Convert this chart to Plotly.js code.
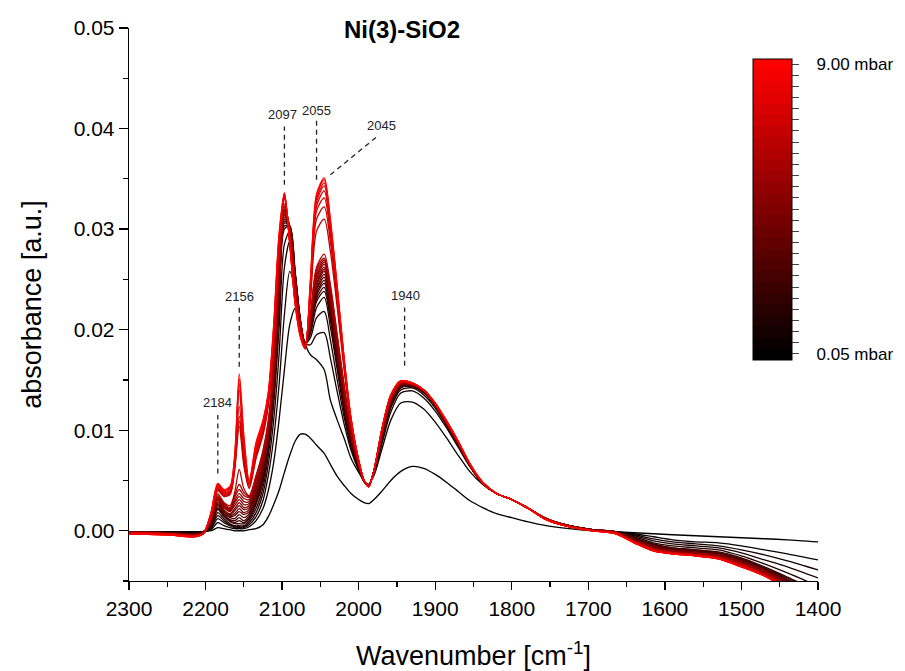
<!DOCTYPE html>
<html><head><meta charset="utf-8">
<script src="https://cdn.plot.ly/plotly-3.0.1.min.js"></script>
<style>html,body{margin:0;padding:0;background:#fff}</style>
</head><body><div id="chart" style="width:905px;height:671px"></div>
<script>
const wavenumbers = [2300,2250,2215,2203,2193,2184,2176,2168,2162,2156,
2150,2143,2134,2125,2118,2111,2104,2097,2090,2083,
2076,2070,2063,2055,2045,2037,2028,2019,2010,2000,
1993,1987,1980,1970,1958,1945,1930,1915,1900,1885,
1870,1855,1838,1820,1800,1780,1755,1725,1695,1665,
1640,1615,1590,1560,1530,1500,1470,1440,1400];

const c00 = [-0.0001,-0.0001,-0.0001,-0.0001,0.0000,0.0003,0.0002,0.0001,0.0000,0.0000,
0.0000,0.0001,0.0002,0.0006,0.0014,0.0026,0.0040,0.0058,0.0075,0.0089,
0.0096,0.0096,0.0092,0.0085,0.0077,0.0066,0.0054,0.0045,0.0037,0.0031,
0.0028,0.0027,0.0031,0.0039,0.0050,0.0059,0.0064,0.0062,0.0056,0.0048,
0.0039,0.0030,0.0023,0.0017,0.0013,0.0009,0.0005,0.0002,0.0000,-0.0001,
-0.0002,-0.0003,-0.0004,-0.0005,-0.0006,-0.0007,-0.0008,-0.0009,-0.0011];
const c01 = [-0.0001,-0.0001,-0.0001,-0.0001,0.0001,0.0008,0.0005,0.0003,0.0002,0.0002,
0.0002,0.0004,0.0010,0.0022,0.0040,0.0068,0.0110,0.0160,0.0205,0.0221,
0.0205,0.0186,0.0175,0.0170,0.0160,0.0130,0.0110,0.0092,0.0072,0.0058,
0.0050,0.0046,0.0055,0.0080,0.0110,0.0127,0.0128,0.0121,0.0108,0.0092,
0.0075,0.0059,0.0046,0.0037,0.0031,0.0023,0.0012,0.0005,0.0001,-0.0001,
-0.0003,-0.0006,-0.0009,-0.0011,-0.0012,-0.0015,-0.0019,-0.0023,-0.0029];
const c02 = [-0.0001,-0.0001,-0.0002,-0.0001,0.0002,0.0012,0.0008,0.0005,0.0003,0.0003,
0.0003,0.0006,0.0014,0.0030,0.0055,0.0092,0.0145,0.0215,0.0258,0.0240,
0.0205,0.0186,0.0185,0.0195,0.0197,0.0172,0.0138,0.0106,0.0080,0.0060,
0.0049,0.0046,0.0057,0.0085,0.0118,0.0137,0.0139,0.0132,0.0119,0.0102,
0.0083,0.0064,0.0047,0.0037,0.0031,0.0023,0.0012,0.0005,0.0001,-0.0001,
-0.0004,-0.0008,-0.0011,-0.0013,-0.0015,-0.0019,-0.0024,-0.0030,-0.0039];
const c03 = [-0.0001,-0.0001,-0.0002,-0.0001,0.0003,0.0015,0.0010,0.0006,0.0004,0.0004,
0.0004,0.0008,0.0018,0.0037,0.0066,0.0110,0.0175,0.0262,0.0288,0.0250,
0.0207,0.0186,0.0192,0.0212,0.0218,0.0190,0.0150,0.0113,0.0083,0.0061,
0.0049,0.0045,0.0058,0.0088,0.0122,0.0140,0.0142,0.0135,0.0122,0.0104,
0.0085,0.0065,0.0047,0.0037,0.0031,0.0023,0.0012,0.0005,0.0001,-0.0001,
-0.0005,-0.0010,-0.0013,-0.0015,-0.0017,-0.0022,-0.0029,-0.0036,-0.0047];
const c04 = [-0.0001,-0.0002,-0.0002,-0.0001,0.0004,0.0018,0.0012,0.0007,0.0005,0.0005,
0.0005,0.0010,0.0022,0.0043,0.0075,0.0125,0.0200,0.0285,0.0298,0.0255,
0.0208,0.0186,0.0196,0.0222,0.0232,0.0203,0.0160,0.0118,0.0086,0.0062,
0.0049,0.0045,0.0059,0.0090,0.0124,0.0142,0.0143,0.0137,0.0124,0.0105,
0.0086,0.0065,0.0047,0.0037,0.0031,0.0023,0.0012,0.0005,0.0001,-0.0001,
-0.0006,-0.0012,-0.0015,-0.0017,-0.0019,-0.0025,-0.0033,-0.0042,-0.0055];
const c05 = [-0.0001,-0.0002,-0.0003,-0.0001,0.0006,0.0021,0.0014,0.0009,0.0007,0.0007,
0.0007,0.0012,0.0026,0.0048,0.0082,0.0135,0.0218,0.0300,0.0303,0.0258,
0.0209,0.0186,0.0199,0.0228,0.0238,0.0210,0.0165,0.0121,0.0087,0.0063,
0.0049,0.0045,0.0059,0.0091,0.0125,0.0143,0.0144,0.0138,0.0125,0.0106,
0.0086,0.0065,0.0047,0.0037,0.0031,0.0023,0.0012,0.0005,0.0001,-0.0001,
-0.0007,-0.0013,-0.0017,-0.0019,-0.0021,-0.0027,-0.0036,-0.0046,-0.0060];
const c06 = [-0.0001,-0.0002,-0.0003,-0.0001,0.0006,0.0022,0.0015,0.0010,0.0008,0.0010,
0.0008,0.0013,0.0028,0.0050,0.0084,0.0138,0.0222,0.0303,0.0303,0.0257,
0.0209,0.0186,0.0200,0.0231,0.0242,0.0213,0.0167,0.0123,0.0088,0.0063,
0.0049,0.0045,0.0059,0.0091,0.0126,0.0143,0.0144,0.0138,0.0125,0.0106,
0.0086,0.0065,0.0047,0.0037,0.0031,0.0023,0.0012,0.0005,0.0001,-0.0001,
-0.0007,-0.0014,-0.0017,-0.0019,-0.0022,-0.0028,-0.0037,-0.0047,-0.0061];
const c07 = [-0.0001,-0.0002,-0.0003,-0.0001,0.0007,0.0023,0.0016,0.0011,0.0010,0.0013,
0.0010,0.0015,0.0030,0.0053,0.0086,0.0141,0.0225,0.0306,0.0303,0.0256,
0.0208,0.0186,0.0201,0.0234,0.0246,0.0216,0.0170,0.0125,0.0089,0.0064,
0.0049,0.0045,0.0059,0.0092,0.0127,0.0144,0.0144,0.0138,0.0125,0.0106,
0.0086,0.0065,0.0047,0.0037,0.0031,0.0023,0.0012,0.0005,0.0001,-0.0001,
-0.0008,-0.0014,-0.0018,-0.0020,-0.0022,-0.0029,-0.0038,-0.0048,-0.0062];
const c08 = [-0.0001,-0.0002,-0.0003,-0.0002,0.0007,0.0025,0.0017,0.0013,0.0012,0.0016,
0.0013,0.0017,0.0033,0.0055,0.0089,0.0144,0.0229,0.0308,0.0303,0.0255,
0.0208,0.0186,0.0202,0.0236,0.0249,0.0219,0.0172,0.0127,0.0090,0.0064,
0.0049,0.0045,0.0059,0.0092,0.0127,0.0144,0.0144,0.0138,0.0125,0.0106,
0.0086,0.0065,0.0047,0.0037,0.0031,0.0023,0.0012,0.0005,0.0001,-0.0001,
-0.0008,-0.0015,-0.0018,-0.0020,-0.0023,-0.0029,-0.0038,-0.0049,-0.0063];
const c09 = [-0.0001,-0.0002,-0.0004,-0.0002,0.0008,0.0026,0.0018,0.0014,0.0015,0.0019,
0.0016,0.0019,0.0035,0.0058,0.0091,0.0146,0.0232,0.0310,0.0302,0.0254,
0.0208,0.0186,0.0204,0.0239,0.0252,0.0221,0.0174,0.0128,0.0091,0.0064,
0.0049,0.0045,0.0059,0.0093,0.0128,0.0145,0.0145,0.0139,0.0125,0.0106,
0.0087,0.0065,0.0047,0.0037,0.0031,0.0023,0.0012,0.0005,0.0001,-0.0001,
-0.0008,-0.0015,-0.0019,-0.0021,-0.0023,-0.0030,-0.0039,-0.0050,-0.0064];
const c10 = [-0.0001,-0.0002,-0.0004,-0.0002,0.0008,0.0027,0.0019,0.0015,0.0017,0.0022,
0.0018,0.0021,0.0037,0.0060,0.0093,0.0149,0.0236,0.0312,0.0302,0.0253,
0.0207,0.0186,0.0205,0.0241,0.0255,0.0224,0.0177,0.0130,0.0092,0.0065,
0.0049,0.0045,0.0059,0.0093,0.0128,0.0145,0.0145,0.0139,0.0125,0.0106,
0.0087,0.0065,0.0047,0.0037,0.0031,0.0023,0.0012,0.0005,0.0001,-0.0001,
-0.0009,-0.0015,-0.0019,-0.0021,-0.0024,-0.0030,-0.0039,-0.0050,-0.0065];
const c11 = [-0.0001,-0.0002,-0.0004,-0.0002,0.0009,0.0028,0.0020,0.0016,0.0020,0.0025,
0.0021,0.0023,0.0040,0.0063,0.0095,0.0151,0.0240,0.0314,0.0302,0.0252,
0.0207,0.0186,0.0206,0.0244,0.0258,0.0227,0.0179,0.0132,0.0093,0.0065,
0.0049,0.0045,0.0059,0.0093,0.0129,0.0145,0.0145,0.0139,0.0125,0.0106,
0.0087,0.0065,0.0047,0.0037,0.0031,0.0023,0.0012,0.0005,0.0001,-0.0001,
-0.0009,-0.0016,-0.0019,-0.0022,-0.0024,-0.0030,-0.0040,-0.0051,-0.0066];
const c12 = [-0.0002,-0.0003,-0.0004,-0.0002,0.0009,0.0030,0.0021,0.0017,0.0022,0.0028,
0.0023,0.0025,0.0042,0.0065,0.0097,0.0154,0.0243,0.0316,0.0301,0.0251,
0.0207,0.0186,0.0207,0.0246,0.0260,0.0229,0.0181,0.0134,0.0094,0.0065,
0.0049,0.0045,0.0059,0.0094,0.0129,0.0145,0.0145,0.0139,0.0125,0.0106,
0.0087,0.0065,0.0047,0.0037,0.0031,0.0023,0.0012,0.0005,0.0001,-0.0001,
-0.0009,-0.0016,-0.0020,-0.0022,-0.0024,-0.0031,-0.0040,-0.0051,-0.0066];
const c13 = [-0.0002,-0.0003,-0.0004,-0.0002,0.0010,0.0031,0.0023,0.0019,0.0025,0.0031,
0.0026,0.0027,0.0045,0.0068,0.0099,0.0157,0.0247,0.0318,0.0301,0.0250,
0.0206,0.0185,0.0209,0.0249,0.0262,0.0232,0.0184,0.0136,0.0096,0.0066,
0.0050,0.0045,0.0060,0.0094,0.0130,0.0146,0.0145,0.0139,0.0126,0.0107,
0.0087,0.0066,0.0048,0.0037,0.0031,0.0023,0.0012,0.0005,0.0001,-0.0001,
-0.0010,-0.0017,-0.0020,-0.0022,-0.0025,-0.0032,-0.0041,-0.0052,-0.0068];
const c14 = [-0.0002,-0.0003,-0.0004,-0.0002,0.0010,0.0032,0.0024,0.0020,0.0028,0.0034,
0.0029,0.0029,0.0047,0.0070,0.0101,0.0159,0.0251,0.0319,0.0301,0.0249,
0.0206,0.0185,0.0210,0.0251,0.0265,0.0235,0.0186,0.0138,0.0097,0.0066,
0.0050,0.0044,0.0060,0.0095,0.0130,0.0146,0.0146,0.0140,0.0126,0.0107,
0.0088,0.0066,0.0048,0.0037,0.0031,0.0023,0.0012,0.0004,0.0000,-0.0002,
-0.0010,-0.0017,-0.0021,-0.0023,-0.0025,-0.0032,-0.0041,-0.0053,-0.0069];
const c15 = [-0.0002,-0.0003,-0.0005,-0.0003,0.0011,0.0033,0.0025,0.0021,0.0030,0.0037,
0.0032,0.0031,0.0050,0.0073,0.0103,0.0162,0.0254,0.0320,0.0301,0.0248,
0.0206,0.0185,0.0211,0.0254,0.0267,0.0238,0.0189,0.0140,0.0098,0.0066,
0.0050,0.0044,0.0060,0.0095,0.0131,0.0146,0.0146,0.0140,0.0126,0.0107,
0.0088,0.0066,0.0048,0.0037,0.0031,0.0023,0.0012,0.0004,0.0000,-0.0002,
-0.0010,-0.0018,-0.0021,-0.0023,-0.0026,-0.0033,-0.0042,-0.0053,-0.0070];
const c16 = [-0.0002,-0.0003,-0.0005,-0.0003,0.0011,0.0034,0.0026,0.0022,0.0033,0.0041,
0.0035,0.0033,0.0052,0.0075,0.0106,0.0165,0.0258,0.0322,0.0300,0.0247,
0.0205,0.0185,0.0212,0.0257,0.0269,0.0240,0.0191,0.0142,0.0099,0.0067,
0.0050,0.0044,0.0060,0.0096,0.0131,0.0147,0.0146,0.0140,0.0126,0.0107,
0.0088,0.0066,0.0048,0.0037,0.0031,0.0023,0.0012,0.0004,0.0000,-0.0002,
-0.0011,-0.0018,-0.0022,-0.0024,-0.0026,-0.0033,-0.0042,-0.0054,-0.0071];
const c17 = [-0.0002,-0.0003,-0.0005,-0.0003,0.0012,0.0035,0.0027,0.0023,0.0035,0.0046,
0.0038,0.0034,0.0054,0.0078,0.0108,0.0168,0.0262,0.0323,0.0300,0.0246,
0.0205,0.0185,0.0214,0.0260,0.0271,0.0243,0.0193,0.0144,0.0100,0.0067,
0.0050,0.0044,0.0060,0.0096,0.0132,0.0147,0.0146,0.0140,0.0126,0.0107,
0.0088,0.0066,0.0048,0.0037,0.0031,0.0023,0.0012,0.0004,0.0000,-0.0002,
-0.0011,-0.0019,-0.0022,-0.0024,-0.0027,-0.0034,-0.0043,-0.0055,-0.0072];
const c18 = [-0.0002,-0.0003,-0.0005,-0.0003,0.0012,0.0037,0.0028,0.0025,0.0038,0.0061,
0.0042,0.0035,0.0055,0.0080,0.0110,0.0170,0.0265,0.0325,0.0300,0.0245,
0.0205,0.0185,0.0215,0.0262,0.0275,0.0245,0.0195,0.0145,0.0100,0.0067,
0.0050,0.0044,0.0060,0.0096,0.0132,0.0147,0.0146,0.0140,0.0126,0.0107,
0.0088,0.0066,0.0048,0.0037,0.0031,0.0023,0.0012,0.0004,0.0000,-0.0002,
-0.0011,-0.0019,-0.0022,-0.0024,-0.0027,-0.0034,-0.0043,-0.0055,-0.0072];
const c19 = [-0.0002,-0.0003,-0.0005,-0.0003,0.0014,0.0040,0.0034,0.0036,0.0060,0.0104,
0.0065,0.0042,0.0072,0.0095,0.0125,0.0185,0.0278,0.0330,0.0290,0.0232,
0.0198,0.0182,0.0230,0.0298,0.0310,0.0278,0.0222,0.0160,0.0107,0.0069,
0.0050,0.0044,0.0060,0.0098,0.0134,0.0148,0.0146,0.0140,0.0126,0.0108,
0.0088,0.0066,0.0048,0.0037,0.0031,0.0023,0.0011,0.0004,0.0000,-0.0002,
-0.0011,-0.0019,-0.0022,-0.0024,-0.0027,-0.0034,-0.0044,-0.0056,-0.0073];
const c20 = [-0.0002,-0.0003,-0.0005,-0.0003,0.0015,0.0041,0.0035,0.0037,0.0062,0.0109,
0.0069,0.0043,0.0074,0.0097,0.0127,0.0188,0.0280,0.0331,0.0289,0.0231,
0.0197,0.0182,0.0233,0.0310,0.0322,0.0288,0.0228,0.0163,0.0108,0.0069,
0.0050,0.0044,0.0060,0.0098,0.0134,0.0148,0.0146,0.0140,0.0126,0.0108,
0.0088,0.0066,0.0048,0.0037,0.0031,0.0023,0.0011,0.0004,0.0000,-0.0002,
-0.0011,-0.0019,-0.0022,-0.0024,-0.0027,-0.0034,-0.0044,-0.0056,-0.0073];
const c21 = [-0.0002,-0.0003,-0.0005,-0.0003,0.0015,0.0042,0.0036,0.0038,0.0064,0.0114,
0.0073,0.0045,0.0077,0.0100,0.0129,0.0191,0.0283,0.0332,0.0288,0.0230,
0.0196,0.0182,0.0237,0.0318,0.0331,0.0295,0.0232,0.0165,0.0109,0.0069,
0.0050,0.0044,0.0060,0.0099,0.0134,0.0148,0.0146,0.0140,0.0126,0.0108,
0.0088,0.0066,0.0048,0.0037,0.0031,0.0023,0.0011,0.0004,0.0000,-0.0002,
-0.0011,-0.0019,-0.0022,-0.0024,-0.0027,-0.0035,-0.0044,-0.0057,-0.0073];
const c22 = [-0.0002,-0.0003,-0.0005,-0.0003,0.0016,0.0043,0.0037,0.0039,0.0067,0.0124,
0.0079,0.0046,0.0079,0.0102,0.0131,0.0194,0.0285,0.0333,0.0287,0.0229,
0.0195,0.0182,0.0240,0.0323,0.0338,0.0300,0.0235,0.0167,0.0110,0.0069,
0.0050,0.0044,0.0060,0.0099,0.0134,0.0148,0.0146,0.0140,0.0126,0.0108,
0.0088,0.0066,0.0048,0.0037,0.0031,0.0023,0.0011,0.0004,0.0000,-0.0002,
-0.0011,-0.0019,-0.0022,-0.0024,-0.0027,-0.0035,-0.0044,-0.0057,-0.0074];
const c23 = [-0.0003,-0.0004,-0.0005,-0.0003,0.0016,0.0044,0.0038,0.0040,0.0069,0.0140,
0.0084,0.0047,0.0081,0.0104,0.0133,0.0197,0.0288,0.0334,0.0287,0.0228,
0.0195,0.0182,0.0243,0.0327,0.0343,0.0303,0.0238,0.0168,0.0110,0.0070,
0.0050,0.0044,0.0060,0.0099,0.0135,0.0149,0.0147,0.0140,0.0127,0.0109,
0.0089,0.0067,0.0048,0.0037,0.0031,0.0023,0.0011,0.0004,0.0000,-0.0003,
-0.0012,-0.0020,-0.0023,-0.0025,-0.0028,-0.0035,-0.0045,-0.0057,-0.0074];
const c24 = [-0.0003,-0.0004,-0.0006,-0.0003,0.0017,0.0045,0.0039,0.0042,0.0071,0.0146,
0.0088,0.0048,0.0084,0.0106,0.0135,0.0200,0.0290,0.0335,0.0286,0.0227,
0.0194,0.0181,0.0245,0.0330,0.0346,0.0306,0.0240,0.0170,0.0111,0.0070,
0.0050,0.0044,0.0060,0.0100,0.0135,0.0149,0.0147,0.0140,0.0127,0.0109,
0.0089,0.0067,0.0048,0.0037,0.0031,0.0023,0.0011,0.0004,0.0000,-0.0003,
-0.0012,-0.0020,-0.0023,-0.0025,-0.0028,-0.0036,-0.0045,-0.0058,-0.0075];
const c25 = [-0.0003,-0.0004,-0.0006,-0.0003,0.0017,0.0046,0.0040,0.0043,0.0073,0.0151,
0.0092,0.0049,0.0086,0.0108,0.0137,0.0203,0.0293,0.0336,0.0285,0.0226,
0.0193,0.0181,0.0248,0.0333,0.0349,0.0308,0.0242,0.0171,0.0112,0.0070,
0.0050,0.0044,0.0060,0.0100,0.0135,0.0149,0.0147,0.0140,0.0127,0.0109,
0.0089,0.0067,0.0048,0.0037,0.0031,0.0023,0.0011,0.0004,0.0000,-0.0003,
-0.0012,-0.0020,-0.0023,-0.0025,-0.0028,-0.0036,-0.0045,-0.0058,-0.0075];
const c26 = [-0.0003,-0.0004,-0.0006,-0.0003,0.0018,0.0047,0.0041,0.0044,0.0075,0.0156,
0.0095,0.0050,0.0088,0.0110,0.0138,0.0205,0.0295,0.0336,0.0285,0.0225,
0.0192,0.0181,0.0250,0.0335,0.0351,0.0310,0.0243,0.0172,0.0112,0.0070,
0.0050,0.0044,0.0060,0.0100,0.0135,0.0149,0.0147,0.0140,0.0127,0.0109,
0.0089,0.0067,0.0048,0.0037,0.0031,0.0023,0.0011,0.0004,0.0000,-0.0003,
-0.0012,-0.0020,-0.0023,-0.0025,-0.0028,-0.0036,-0.0045,-0.0058,-0.0075];

const spectra = [c00,c01,c02,c03,c04,c05,c06,c07,c08,c09,c10,c11,c12,c13,
  c14,c15,c16,c17,c18,c19,c20,c21,c22,c23,c24,c25,c26];

const pressureLow = '0.05 mbar';
const pressureHigh = '9.00 mbar';

const peakLabels = ['2184','2156','2097','2055','2045','1940'];
const peakLabelX = [2185, 2156, 2099, 2055, 1970, 1939];
const peakLabelY = [0.0128, 0.0233, 0.0414, 0.0418, 0.0403, 0.0234];
const leaderX0 = [2184, 2156, 2097, 2055, 2037, 1940];
const leaderY0 = [0.0057, 0.0163, 0.0344, 0.0349, 0.0354, 0.0164];
const leaderX1 = [2184, 2156, 2097, 2055, 1976, 1940];
const leaderY1 = [0.0115, 0.0223, 0.0402, 0.0409, 0.0392, 0.0222];

const N = spectra.length;
function shade(i){ return 'rgb(' + Math.round(255*i/(N-1)) + ',0,0)'; }

const FONT = 'Arial, "Liberation Sans", sans-serif';

const traces = spectra.map((ys, i) => ({
  type: 'scatter', mode: 'lines', x: wavenumbers, y: ys,
  line: {color: shade(i), width: 1.3, shape: 'spline', smoothing: 0.8},
  hoverinfo: 'skip', showlegend: false
}));

// plot area in pixels (for placing the colour scale)
const PL = 129, PR = 818, PT = 28, PB = 581;
const GAP = '\u00a0\u00a0\u00a0';

const cs = [];
for (let i = 0; i < N; i++) {
  cs.push([i/N, shade(i)]);
  cs.push([(i+1)/N, shade(i)]);
}
const tickvals = [], ticktext = [];
for (let i = 0; i < N; i++) { tickvals.push(i); ticktext.push(i === 0 ? GAP + pressureLow : (i === N-1 ? GAP + pressureHigh : '')); }
traces.push({
  type: 'scatter', mode: 'markers', x: [wavenumbers[0], wavenumbers[0]], y: [null, null],
  hoverinfo: 'skip', showlegend: false,
  marker: {
    color: [0, N-1], cmin: -0.5, cmax: N-0.5, colorscale: cs, showscale: true, size: 1,
    colorbar: {
      x: (752.5-PL)/(PR-PL), xanchor: 'left', y: (PB-58.5)/(PB-PT), yanchor: 'top',
      thickness: 39, thicknessmode: 'pixels', len: 301, lenmode: 'pixels',
      xpad: 0, ypad: 0, outlinewidth: 1, outlinecolor: '#000',
      ticks: 'outside', ticklen: 7, tickwidth: 1, tickcolor: '#444',
      tickvals: tickvals, ticktext: ticktext,
      tickfont: {family: FONT, size: 17, color: '#000'}
    }
  }
});

const annotations = peakLabels.map((t, i) => ({
  x: peakLabelX[i], y: peakLabelY[i], xref: 'x', yref: 'y', text: t, showarrow: false,
  font: {family: FONT, size: 13, color: '#222'}, xanchor: 'center', yanchor: 'middle'
}));
const shapes = peakLabels.map((t, i) => ({
  type: 'line', xref: 'x', yref: 'y', x0: leaderX0[i], y0: leaderY0[i], x1: leaderX1[i], y1: leaderY1[i],
  line: {color: '#222', width: 1.3, dash: '5px,4px'}
}));

const layout = {
  width: 905, height: 671,
  margin: {l: PL, r: 905-PR, t: PT, b: 671-PB, autoexpand: false},
  paper_bgcolor: '#fff', plot_bgcolor: '#fff',
  font: {family: FONT, color: '#000'},
  showlegend: false,
  title: {text: '<b>Ni(3)-SiO2</b>', x: 402/905, xanchor: 'center', xref: 'container',
          y: 1 - 30/671, yanchor: 'middle', yref: 'container', font: {family: FONT, size: 24, color: '#000'}},
  xaxis: {
    range: [2300, 1400], showgrid: false, zeroline: false, showline: true, linecolor: '#000', linewidth: 1.3,
    ticks: 'outside', ticklen: 8, tickwidth: 1.3, tickcolor: '#000', dtick: 100, tick0: 1400,
    minor: {ticks: 'outside', ticklen: 5, tickwidth: 1.2, tickcolor: '#000', dtick: 50},
    tickfont: {family: FONT, size: 21, color: '#000'},
    title: {text: 'Wavenumber [cm<sup>-1</sup>]', font: {family: FONT, size: 27, color: '#000'}, standoff: 28}
  },
  yaxis: {
    range: [-0.005, 0.05], showgrid: false, zeroline: false, showline: true, linecolor: '#000', linewidth: 1.3,
    ticks: 'outside', ticklen: 9, tickwidth: 1.3, tickcolor: '#000', dtick: 0.01, tick0: 0, tickformat: '.2f',
    minor: {ticks: 'outside', ticklen: 5, tickwidth: 1.2, tickcolor: '#000', dtick: 0.005},
    tickfont: {family: FONT, size: 21, color: '#000'},
    title: {text: 'absorbance [a.u.]', font: {family: FONT, size: 27, color: '#000'}, standoff: 24}
  },
  annotations: annotations,
  shapes: shapes
};

Plotly.newPlot('chart', traces, layout, {displayModeBar: false, staticPlot: true});
</script>
</body></html>
